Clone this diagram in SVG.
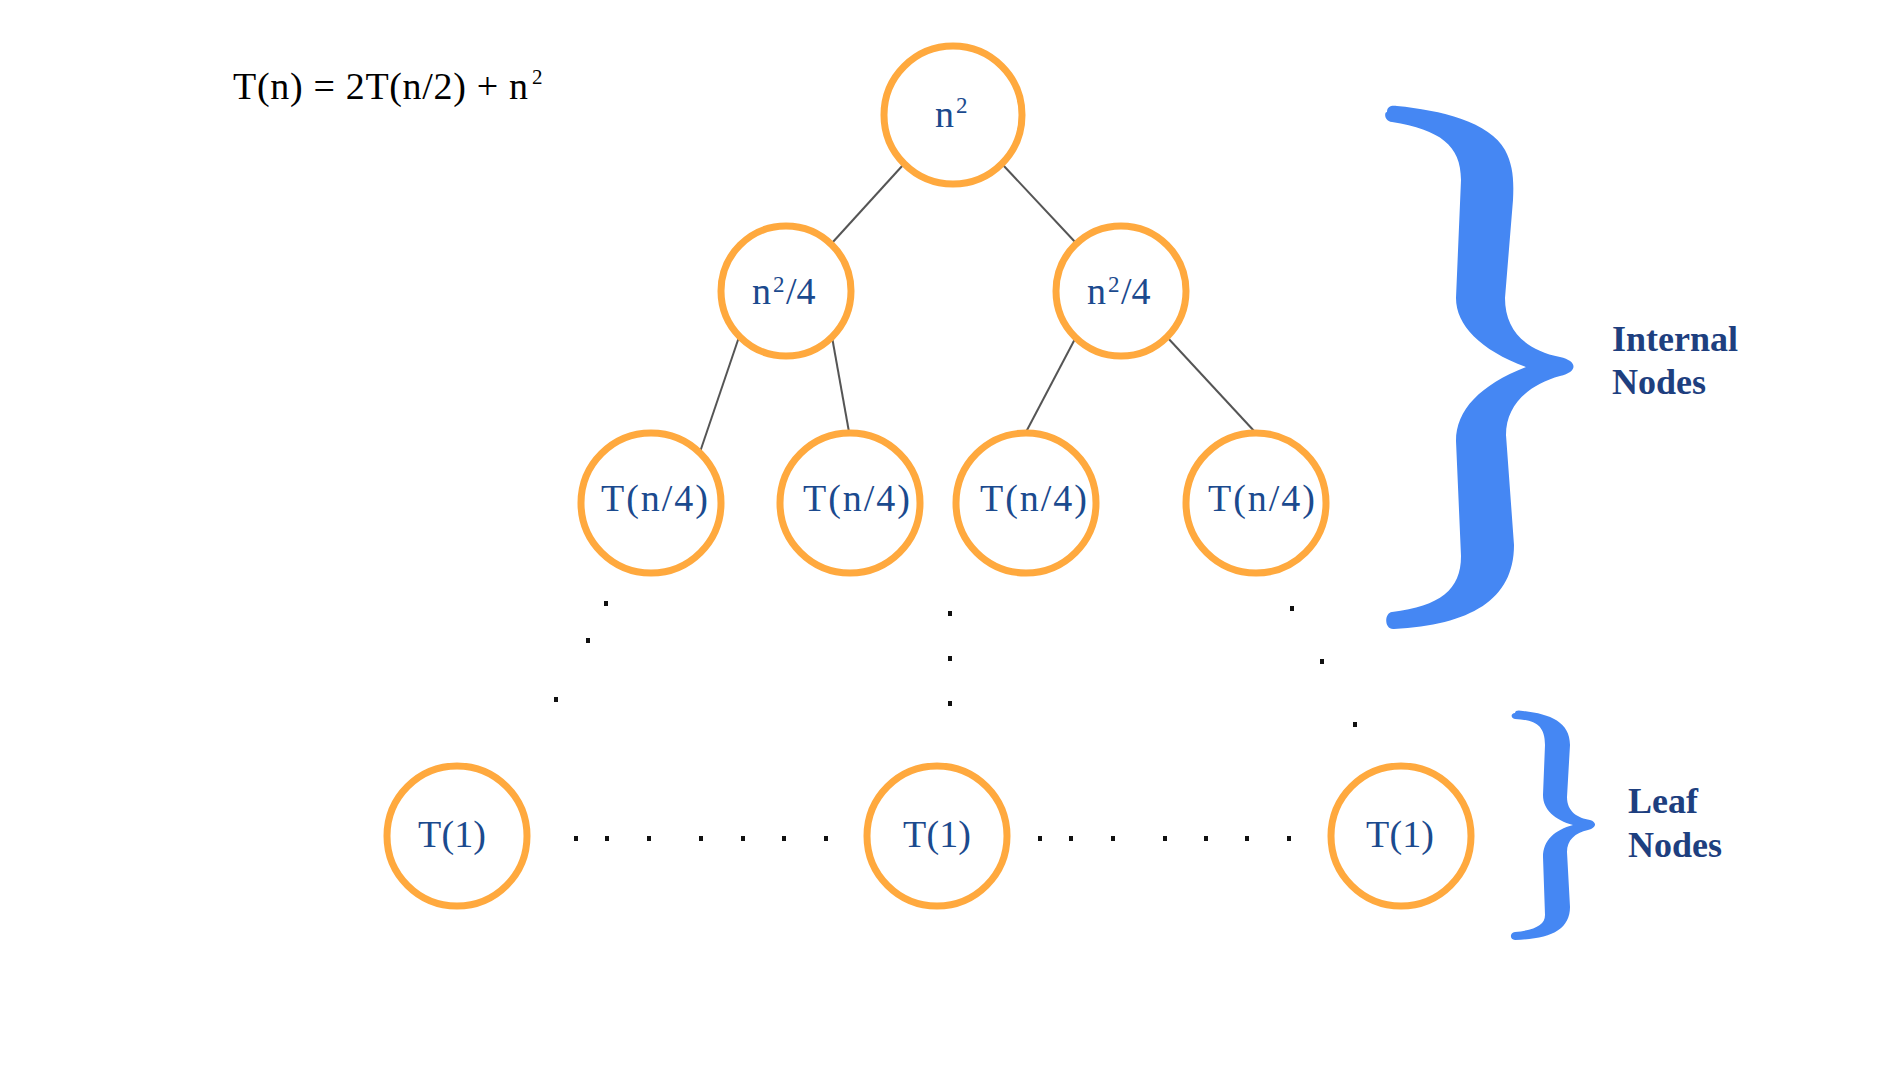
<svg xmlns="http://www.w3.org/2000/svg" width="1902" height="1079" viewBox="0 0 1902 1079">
<style>
.node{fill:none;stroke:#FFA93E;stroke-width:7}
.nt{font-family:"Liberation Serif","DejaVu Serif",serif;font-size:38px;fill:#1B4A8E}
.sup{font-size:23px}
.edge{stroke:#555555;stroke-width:2;fill:none}
.dot{fill:#111111}
.brace{fill:#4587F3}
.lbl{font-family:"Liberation Serif","DejaVu Serif",serif;font-size:36px;font-weight:bold;fill:#1E3F7F}
.formula{font-family:"Liberation Serif","DejaVu Serif",serif;font-size:38px;fill:#000}
.fsup{font-family:"Liberation Serif","DejaVu Serif",serif;font-size:21px;fill:#000}
</style>
<rect width="1902" height="1079" fill="#ffffff"/>
<text class="formula" x="233" y="99" textLength="295" lengthAdjust="spacing">T(n) = 2T(n/2) + n</text>
<text class="fsup" x="532" y="84">2</text>

<g id="connectors">
<line class="edge" x1="903" y1="165" x2="832" y2="243"/>
<line class="edge" x1="1003" y1="165" x2="1076" y2="243"/>
<line class="edge" x1="739" y1="337" x2="700" y2="452"/>
<line class="edge" x1="832" y1="337" x2="849" y2="432"/>
<line class="edge" x1="1076" y1="337" x2="1026" y2="432"/>
<line class="edge" x1="1167" y1="337" x2="1255" y2="432"/>
</g>

<g id="root">
<circle class="node" cx="953" cy="115" r="69"/>
<text class="nt"><tspan x="935" y="127">n</tspan><tspan class="sup" x="956" y="113">2</tspan></text>
</g>
<g id="l2a">
<circle class="node" cx="786" cy="291" r="65"/>
<text class="nt"><tspan x="752" y="304">n</tspan><tspan class="sup" x="773" y="292">2</tspan><tspan x="786" y="304">/4</tspan></text>
</g>
<g id="l2b">
<circle class="node" cx="1121" cy="291" r="65"/>
<text class="nt"><tspan x="1087" y="304">n</tspan><tspan class="sup" x="1108" y="292">2</tspan><tspan x="1121" y="304">/4</tspan></text>
</g>
<g id="l3a">
<circle class="node" cx="651" cy="503" r="70"/>
<text class="nt" x="601" y="511" textLength="107" lengthAdjust="spacing">T(n/4)</text>
</g>
<g id="l3b">
<circle class="node" cx="850" cy="503" r="70"/>
<text class="nt" x="803" y="511" textLength="107" lengthAdjust="spacing">T(n/4)</text>
</g>
<g id="l3c">
<circle class="node" cx="1026" cy="503" r="70"/>
<text class="nt" x="980" y="511" textLength="107" lengthAdjust="spacing">T(n/4)</text>
</g>
<g id="l3d">
<circle class="node" cx="1256" cy="503" r="70"/>
<text class="nt" x="1208" y="511" textLength="107" lengthAdjust="spacing">T(n/4)</text>
</g>
<g id="leaf1">
<circle class="node" cx="457" cy="836" r="70"/>
<text class="nt" x="418" y="847" textLength="68" lengthAdjust="spacing">T(1)</text>
</g>
<g id="leaf2">
<circle class="node" cx="937" cy="836" r="70"/>
<text class="nt" x="903" y="847" textLength="68" lengthAdjust="spacing">T(1)</text>
</g>
<g id="leaf3">
<circle class="node" cx="1401" cy="836" r="70"/>
<text class="nt" x="1366" y="847" textLength="68" lengthAdjust="spacing">T(1)</text>
</g>

<g id="dots">
<rect class="dot" x="604" y="601" width="4" height="5"/>
<rect class="dot" x="586" y="638" width="4" height="5"/>
<rect class="dot" x="554" y="697" width="4" height="5"/>
<rect class="dot" x="948" y="611" width="4" height="5"/>
<rect class="dot" x="948" y="656" width="4" height="5"/>
<rect class="dot" x="948" y="701" width="4" height="5"/>
<rect class="dot" x="1290" y="606" width="4" height="5"/>
<rect class="dot" x="1320" y="659" width="4" height="5"/>
<rect class="dot" x="1353" y="722" width="4" height="5"/>
<rect class="dot" x="574" y="836" width="4" height="5"/>
<rect class="dot" x="605" y="836" width="4" height="5"/>
<rect class="dot" x="647" y="836" width="4" height="5"/>
<rect class="dot" x="699" y="836" width="4" height="5"/>
<rect class="dot" x="741" y="836" width="4" height="5"/>
<rect class="dot" x="782" y="836" width="4" height="5"/>
<rect class="dot" x="824" y="836" width="4" height="5"/>
<rect class="dot" x="1038" y="836" width="4" height="5"/>
<rect class="dot" x="1069" y="836" width="4" height="5"/>
<rect class="dot" x="1111" y="836" width="4" height="5"/>
<rect class="dot" x="1163" y="836" width="4" height="5"/>
<rect class="dot" x="1204" y="836" width="4" height="5"/>
<rect class="dot" x="1245" y="836" width="4" height="5"/>
<rect class="dot" x="1287" y="836" width="4" height="5"/>
</g>

<g id="internal-brace">
<path class="brace" d="M 1387,112 C 1387,106 1392,105 1397,106 C 1440,110 1490,122 1505,150 C 1513,165 1514,180 1513,200 L 1505,298 C 1505,330 1525,350 1560,357 C 1578,361 1578,372 1560,376 C 1528,385 1506,405 1506,435 L 1514,545 C 1514,600 1470,625 1394,629 C 1384,630 1384,613 1392,612 C 1440,606 1461,590 1461,556 L 1456,441 C 1456,410 1480,385 1526,367 C 1480,350 1456,325 1456,298 L 1461,180 C 1461,145 1440,130 1392,122 C 1384,121 1384,112 1387,112 Z"/>
</g>
<g id="internal-label">
<text class="lbl" x="1612" y="351">Internal</text>
<text class="lbl" x="1612" y="394">Nodes</text>
</g>
<g id="leaf-brace">
<path class="brace" d="M 1515,713 C 1515,710 1519,710 1523,711 C 1550,714 1570,722 1570,745 L 1567,797 C 1567,812 1578,818 1590,820 C 1597,822 1597,828 1588,830 C 1575,833 1567,840 1567,852 L 1570,907 C 1570,930 1550,939 1515,940 C 1510,940 1509,933 1515,932 C 1535,930 1545,925 1545,915 L 1543,857 C 1543,840 1555,830 1573,825 C 1555,820 1543,810 1543,795 L 1545,745 C 1545,725 1535,720 1515,719 C 1510,718 1511,713 1515,713 Z"/>
</g>
<g id="leaf-label">
<text class="lbl" x="1628" y="813">Leaf</text>
<text class="lbl" x="1628" y="857">Nodes</text>
</g>
</svg>
